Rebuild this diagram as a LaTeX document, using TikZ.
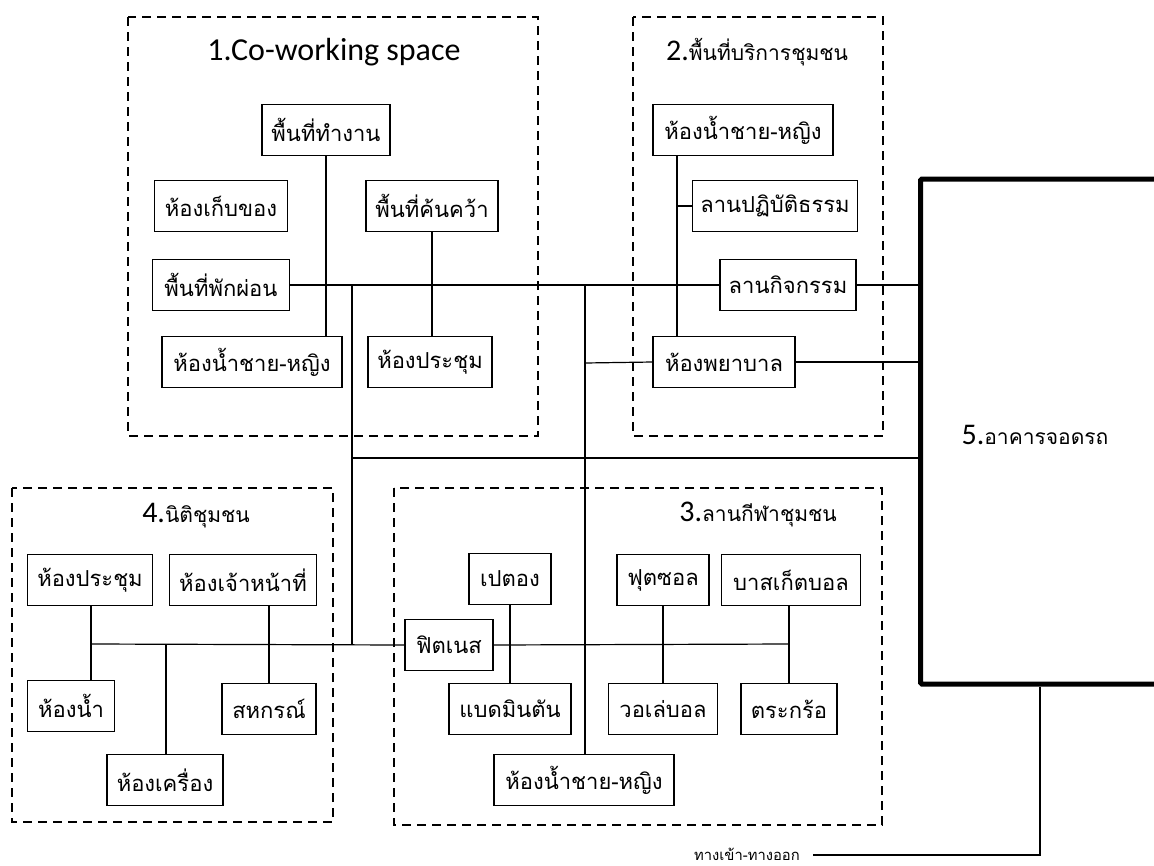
\documentclass[tikz,border=0pt]{standalone}
\usepackage{fontspec}
\setmainfont{Carlito}
\newfontfamily\thai[Script=Thai]{Loma}
\begin{document}
\begin{tikzpicture}[x=1pt,y=-1pt,
  box/.style={draw, line width=1.1pt, minimum height=51pt, inner sep=0pt,
    font=\thai\fontsize{22}{26}\selectfont},
  grp/.style={draw, line width=1.8pt, dash pattern=on 9pt off 6pt},
  wire/.style={line width=1.2pt},
  ttl/.style={inner sep=0pt, font=\thai\fontsize{21}{24}\selectfont},
  num/.style={font=\fontsize{30}{32}\selectfont}
]
\useasboundingbox (0,0) rectangle (1154,865);
% groups
\draw[grp] (128,17) rectangle (538,436);
\draw[grp] (633,17) rectangle (883,436);
\draw[grp] (394,488) rectangle (882,825);
\draw[grp] (12,488) rectangle (333,822);
% titles
\node[inner sep=0pt, font=\fontsize{32}{34}\selectfont] (t1) at (334,52) {1.Co-working space};
\node[ttl] (t2) at (757,52) {{\fontsize{30}{32}\selectfont\rmfamily 2.}พื้นที่บริการชุมชน};
\node[ttl] (t3) at (758,514) {{\fontsize{30}{32}\selectfont\rmfamily 3.}ลานกีฬาชุมชน};
\node[ttl] (t4) at (196,516) {{\fontsize{30}{32}\selectfont\rmfamily 4.}นิติชุมชน};
% group 1
\node[box, minimum width=128pt] (g1work) at (326,130) {พื้นที่ทำงาน};
\node[box, minimum width=133pt] (g1store) at (221,206) {ห้องเก็บของ};
\node[box, minimum width=132pt] (g1res) at (432,206) {พื้นที่ค้นคว้า};
\node[box, minimum width=137pt] (g1rest) at (221,285) {พื้นที่พักผ่อน};
\node[box, minimum width=180pt] (g1wc) at (252,362) {ห้องน้ำชาย-หญิง};
\node[box, minimum width=124pt] (g1meet) at (430,362) {ห้องประชุม};
% group 2
\node[box, minimum width=180pt] (g2wc) at (743,130) {ห้องน้ำชาย-หญิง};
\node[box, minimum width=165pt] (g2med) at (775,206) {ลานปฏิบัติธรรม};
\node[box, minimum width=136pt] (g2act) at (788,285) {ลานกิจกรรม};
\node[box, minimum width=142pt] (g2nurse) at (724,362) {ห้องพยาบาล};
% group 3
\node[box, minimum width=82pt] (g3pet) at (510,579) {เปตอง};
\node[box, minimum width=88pt] (g3fit) at (449,645) {ฟิตเนส};
\node[box, minimum width=122pt] (g3bad) at (510,709) {แบดมินตัน};
\node[box, minimum width=180pt] (g3wc) at (584,780) {ห้องน้ำชาย-หญิง};
\node[box, minimum width=92pt] (g3fut) at (663,580) {ฟุตซอล};
\node[box, minimum width=139pt] (g3bask) at (791,580) {บาสเก็ตบอล};
\node[box, minimum width=109pt] (g3vol) at (663,709) {วอเล่บอล};
\node[box, minimum width=96pt] (g3tak) at (789,709) {ตระกร้อ};
% group 4
\node[box, minimum width=125pt] (g4meet) at (90,580) {ห้องประชุม};
\node[box, minimum width=147pt] (g4staff) at (243,580) {ห้องเจ้าหน้าที่};
\node[box, minimum width=87pt] (g4wc) at (71,706) {ห้องน้ำ};
\node[box, minimum width=116pt] (g4eng) at (165,780) {ห้องเครื่อง};
\node[box, minimum width=94pt] (g4coop) at (269,709) {สหกรณ์};
% parking
\node[draw, line width=5pt, rounded corners=1.5pt, minimum width=250pt, minimum height=505pt, inner sep=0pt] (park) at (1045.5,431.5) {};
\node[ttl] (t5) at (1035,435) {{\fontsize{30}{32}\selectfont\rmfamily 5.}อาคารจอดรถ};
% junctions
\coordinate (ja) at (352,285);
\coordinate (jb) at (352,458);
\coordinate (jc) at (352,644);
\coordinate (jd) at (585,285);
\coordinate (je) at (585,363);
\coordinate (jf) at (677,206);
\coordinate (jg) at (91,644);
\coordinate (jh) at (166,644);
\coordinate (ji) at (269,644);
\coordinate (jj) at (789,644);
\coordinate (jk) at (1040,855);
\coordinate (jl) at (813,855);
% wires
\draw[wire] (g1rest.east) -- (g2act.west);
\draw[wire] (g1work.south) -- (g1work.south |- g1wc.north);
\draw[wire] (g1res.south) -- (g1res.south |- g1meet.north);
\draw[wire] (ja) -- (jc);
\draw[wire] (jb) -- (jb -| park.west);
\draw[wire] (jd) -- (jd |- g3wc.north);
\draw[wire] (je) -- (g2nurse.west);
\draw[wire] (jf |- g2wc.south) -- (jf |- g2nurse.north);
\draw[wire] (jf) -- (g2med.west);
\draw[wire] (g2act.east) -- (g2act.east -| park.west);
\draw[wire] (g2nurse.east) -- (g2nurse.east -| park.west);
\draw[wire] (jg) -- (g3fit.west);
\draw[wire] (jg |- g4meet.south) -- (jg |- g4wc.north);
\draw[wire] (jh) -- (jh |- g4eng.north);
\draw[wire] (ji |- g4staff.south) -- (ji |- g4coop.north);
\draw[wire] (g3fit.east) -- (jj);
\draw[wire] (g3pet.south) -- (g3pet.south |- g3bad.north);
\draw[wire] (g3fut.south) -- (g3vol.north);
\draw[wire] (jj |- g3bask.south) -- (g3tak.north);
\draw[wire] (jk |- park.south) -- (jk) -- (jl);
\node[inner sep=0pt, anchor=base east, font=\thai\fontsize{14.8}{17}\selectfont] (exit) at (800,860) {ทางเข้า-ทางออก};
\end{tikzpicture}
\end{document}
